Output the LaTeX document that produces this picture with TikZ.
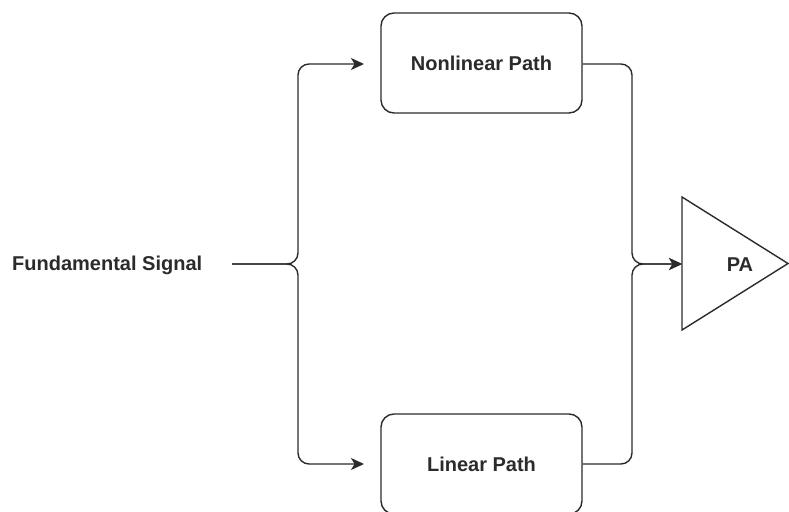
\documentclass[tikz,border=0pt]{standalone}
\usepackage{fontspec}
\setmainfont{Liberation Sans}
\usetikzlibrary{arrows.meta}
\definecolor{ink}{HTML}{2B2B2B}
\begin{document}
\begin{tikzpicture}[x=1pt,y=-1pt,
  pathbox/.style={draw=ink,line width=1.4pt,rounded corners=13pt,
    minimum width=201pt,minimum height=100pt,inner sep=0pt,
    text=ink,font=\fontsize{20}{23}\selectfont\bfseries},
  label/.style={text=ink,font=\fontsize{20}{23}\selectfont\bfseries,inner sep=0pt},
  wire/.style={draw=ink,line width=1.4pt,rounded corners=11pt},
  feed/.style={wire,-{Stealth[length=13pt,width=12pt,inset=3.5pt]}}]
\useasboundingbox (0,0) rectangle (789,511);

% blocks
\node[pathbox] (nl)  at (481.5,63)  {Nonlinear Path};
\node[pathbox] (lin) at (481.5,464) {Linear Path};
\node[label,anchor=west] (sig) at (12,265) {Fundamental Signal};

% amplifier triangle
\coordinate (paL) at (682,264);
\draw[draw=ink,line width=1.4pt,line join=miter] (682,197) -- (788,263.5) -- (682,330) -- cycle;
\node[label] (pa) at (740,265) {PA};

% split points and arrow ends
\coordinate (sigEnd) at (232,264);
\coordinate (nlIn) at (364,64);
\coordinate (linIn) at (364,464);

% fan-out
\draw[feed] (sigEnd) -- (298,264) -- (298,64) -- (nlIn);
\draw[feed] (sigEnd) -- (298,264) -- (298,464) -- (linIn);

% combine into the amplifier
\draw[feed] (nl.east |- 0,64) -- (632,64) -- (632,264) -- (paL);
\draw[feed] (lin.east) -- (632,464) -- (632,264) -- (paL);
\end{tikzpicture}
\end{document}
